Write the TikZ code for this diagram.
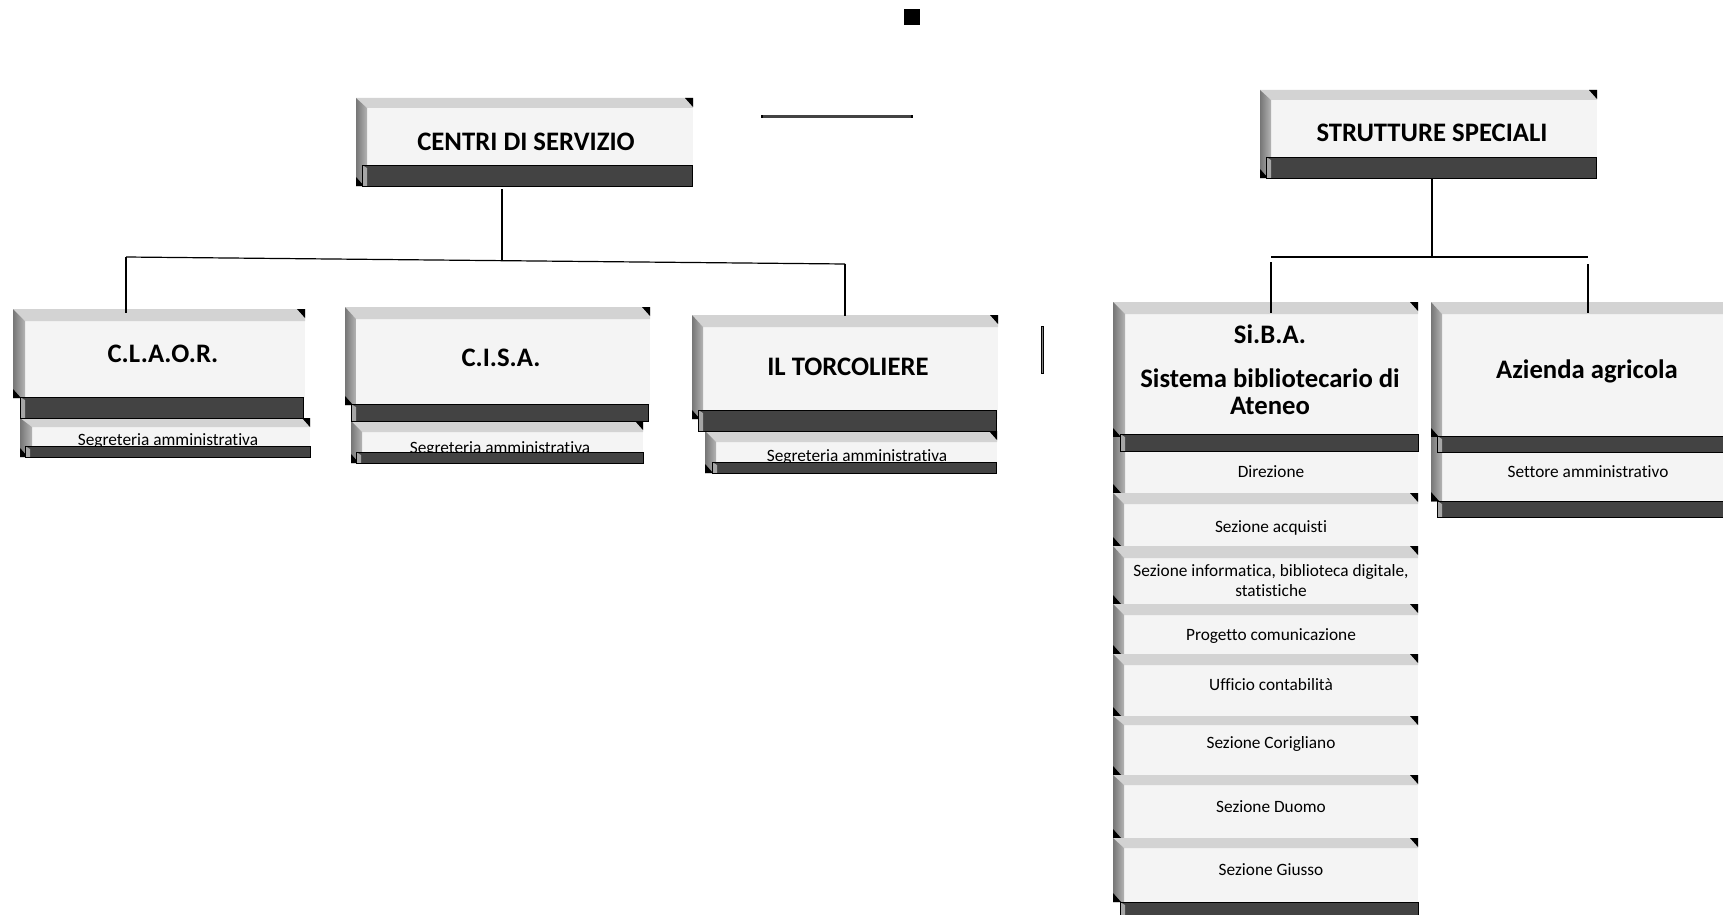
\documentclass[tikz,border=0pt]{standalone}
\usepackage{fontspec}
\setmainfont{Carlito}[Ligatures={NoCommon,NoRare,NoContextual},Contextuals=NoAlternate]
\definecolor{facec}{HTML}{F4F4F4}
\definecolor{topc}{HTML}{D3D3D3}
\definecolor{leftd}{HTML}{767676}
\definecolor{leftl}{HTML}{B4B4B4}
\definecolor{darkc}{HTML}{434343}
\definecolor{bevl}{HTML}{A6A6A6}
\newcommand{\mybev}[6]{%
  \fill[facec] (#1,#2) rectangle (#3,#4);
  \fill[topc] (#1,#2) -- (#3,#2) -- (#3,#2+#5) -- (#1+#6,#2+#5) -- cycle;
  \shade[left color=leftd,right color=leftl] (#1,#2) -- (#1+#6,#2+#5) -- (#1+#6,#4) -- (#1,#4) -- cycle;
  \fill[black] (#3-8,#2) -- (#3,#2) -- (#3,#2+9) -- cycle;
  \fill[black] (#1,#4-9) -- (#1+8,#4) -- (#1,#4) -- cycle;
}
\newcommand{\myflat}[5]{%
  \fill[facec] (#1,#2) rectangle (#3,#4);
  \shade[left color=leftd,right color=leftl] (#1,#2) rectangle (#1+#5,#4);
  \fill[black] (#1,#4-9) -- (#1+8,#4) -- (#1,#4) -- cycle;
}
\newcommand{\mydark}[4]{%
  \fill[darkc] (#1,#2) rectangle (#3,#4);
  \fill[bevl] (#1,#2) -- (#1+5,#2+3) -- (#1+5,#4) -- (#1,#4) -- cycle;
  \draw[black,line width=0.8] (#1,#2) rectangle (#3,#4);
}
\tikzset{
  title/.style={font=\fontsize{26.7}{31}\selectfont\bfseries, inner sep=0pt, anchor=base},
  small/.style={font=\fontsize{17.3}{20}\selectfont, inner sep=0pt, anchor=base},
  conn/.style={black, line width=1.2pt}
}
\begin{document}
\begin{tikzpicture}[x=1pt,y=-1pt]
\clip (0,0) rectangle (1723,915);
\fill[white] (0,0) rectangle (1723,915);

% misc marks
\fill[black] (904,9) rectangle (920,25);
\fill[darkc] (761,115) rectangle (913,118);
\fill[black] (761,115) rectangle (763,118);
\fill[black] (911,115) rectangle (913,118);
\fill[black] (1041,326) rectangle (1044,374);
\fill[gray] (1042,327) rectangle (1043.3,373);

% CENTRI DI SERVIZIO
\mybev{356}{98}{693}{186}{10}{11}
\mydark{362}{165}{692}{186}
\node[title] (centri) at (526,150) {CENTRI DI SERVIZIO};

% STRUTTURE SPECIALI
\mybev{1260}{90}{1597}{178}{10}{11}
\mydark{1266}{157}{1596}{178}
\node[title] (strutture) at (1432,142) {STRUTTURE SPECIALI};

% C.L.A.O.R.
\mybev{13}{309}{305}{398}{12}{12}
\node[title] (claor) at (163,362) {C.L.A.O.R.};
\mybev{20}{418}{310}{457}{9}{12}
\node[small] (claorseg) at (168,445.5) {Segreteria amministrativa};
\mydark{20}{397}{303}{418}
\mydark{25}{446}{310}{457}

% C.I.S.A.
\mybev{345}{307}{650}{405}{12}{11}
\node[title] (cisa) at (501,366.5) {C.I.S.A.};
\mybev{351}{421}{643}{463}{11}{11}
\node[small] (cisaseg) at (500,453) {Segreteria amministrativa};
\mydark{351}{404}{648}{421}
\mydark{356}{452}{643}{463}

% IL TORCOLIERE
\mybev{692}{315}{998}{419}{12}{11}
\node[title] (torc) at (848,375) {IL TORCOLIERE};
\mybev{705}{431}{997}{473}{11}{11}
\node[small] (torcseg) at (857,461) {Segreteria amministrativa};
\mydark{698}{410}{996}{431}
\mydark{712}{462}{996}{473}

% Si.B.A.
\mybev{1113}{302}{1418}{437}{12}{12}
\myflat{1113}{437}{1418}{493}{12}
\mydark{1120}{434}{1418}{451}
\node[title] (siba1) at (1270,343) {Si.B.A.};
\node[title] (siba2) at (1270,387) {Sistema bibliotecario di};
\node[title] (siba3) at (1270,414) {Ateneo};
\node[small] (dir) at (1271,477.5) {Direzione};
\mybev{1113}{493}{1418}{546}{11}{11}
\node[small] (acq) at (1271,532) {Sezione acquisti};
\mybev{1113}{546}{1418}{604}{12}{11}
\node[small] (inf1) at (1271,576.5) {Sezione informatica, biblioteca digitale,};
\node[small] (inf2) at (1271,596) {statistiche};
\mybev{1113}{604}{1418}{654}{11}{11}
\node[small] (prog) at (1271,640) {Progetto comunicazione};
\mybev{1113}{654}{1418}{716}{11}{11}
\node[small] (uff) at (1271,690.5) {Ufficio contabilità};
\mybev{1113}{716}{1418}{775}{9}{11}
\node[small] (cor) at (1271,748) {Sezione Corigliano};
\mybev{1113}{775}{1418}{838}{10}{11}
\node[small] (duo) at (1271,812) {Sezione Duomo};
\mybev{1113}{838}{1418}{902}{10}{11}
\node[small] (giu) at (1271,875.5) {Sezione Giusso};
\mydark{1120}{902}{1418}{922}

% Azienda agricola
\mybev{1431}{302}{1735}{437}{12}{11}
\myflat{1431}{437}{1735}{501}{11}
\mydark{1437}{436}{1735}{452}
\mydark{1437}{501}{1735}{517}
\node[title] (azienda) at (1587,378) {Azienda agricola};
\node[small] (settore) at (1588,477) {Settore amministrativo};

% connectors
\coordinate (cbot) at (502,189);
\coordinate (cmid) at (502,261);
\coordinate (hl) at (126,257);
\coordinate (hr) at (845,264);
\coordinate (claortop) at (126,313);
\coordinate (torctop) at (845,316);
\draw[conn] (cbot) -- (cmid);
\draw[conn] (hl) -- (hr);
\draw[conn] (hl) -- (claortop);
\draw[conn] (hr) -- (torctop);

\coordinate (sbot) at (1432,178);
\coordinate (smid) at (1432,257);
\coordinate (shl) at (1271,257);
\coordinate (shr) at (1588,257);
\coordinate (shl2) at (1271,262);
\coordinate (shr2) at (1588,264);
\coordinate (sibatop) at (1271,313);
\coordinate (aztop) at (1588,313);
\draw[conn] (sbot) -- (smid);
\draw[conn] (shl) -- (shr);
\draw[conn] (shl2) -- (sibatop);
\draw[conn] (shr2) -- (aztop);
\end{tikzpicture}
\end{document}
